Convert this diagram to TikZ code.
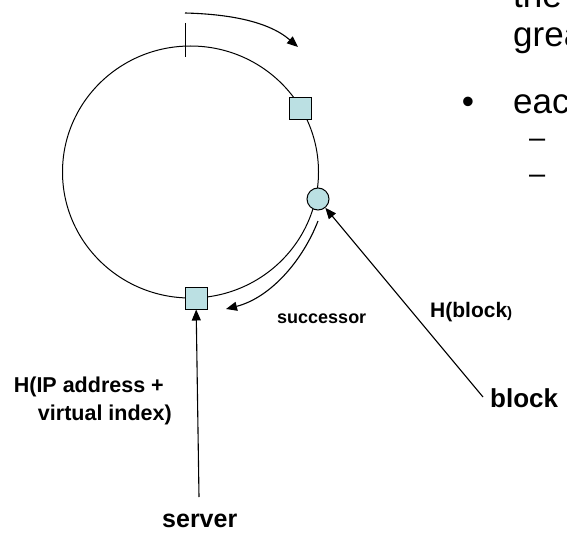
\documentclass[tikz,border=0pt]{standalone}
\usepackage{fontspec}
\setmainfont{Liberation Sans}
\usepackage{tikz}
\usetikzlibrary{arrows.meta, positioning}
\definecolor{ringfill}{HTML}{BBE0E3}
\definecolor{ringline}{HTML}{000000}
\tikzset{
    servernode/.style={
        rectangle, draw=ringline, fill=ringfill,
        minimum size=22pt, inner sep=0pt, line width=1pt
    },
    blocknode/.style={
        circle, draw=ringline, fill=ringfill,
        minimum size=22pt, inner sep=0pt, line width=1pt
    },
    ringarrow/.style={
        -{Triangle[length=11pt, width=9pt]}, line width=1.1pt, color=ringline
    },
    lab/.style={
        font=\bfseries\fontsize{#1}{#1}\selectfont, inner sep=0pt, anchor=base west
    },
    slidetext/.style={
        font=\fontsize{35}{40}\selectfont, inner sep=0pt, anchor=base west
    },
}

\begin{document}
\begin{tikzpicture}[x=1pt, y=-1pt]

    \useasboundingbox (0,0) rectangle (567,535);
    \clip (0,0) rectangle (567,535);

    % Hash ring and start tick
    \coordinate (hub) at (190.5,172);
    \draw[line width=1pt] (hub) ellipse[x radius=128pt, y radius=126pt];
    \coordinate (tickA) at (185.5,23);
    \coordinate (tickB) at (185.5,57);
    \draw[line width=1pt] (tickA) -- (tickB);

    % Servers and block on the ring
    \node[servernode] (srvtop) at (300,108) {};
    \node[blocknode] (blk) at (318,199) {};
    \node[servernode] (srv) at (196,298) {};

    % Direction of the ring
    \coordinate (spinA) at (185,13);
    \coordinate (spinB) at (298,47);
    \draw[ringarrow] (spinA) .. controls (225.5,14) and (267.4,20.4) .. (spinB);

    % Successor walk
    \coordinate (succA) at (318,221);
    \coordinate (succB) at (226,309);
    \draw[ringarrow] (succA) .. controls (302,262) and (269.6,298) .. (succB);
    \node[lab=18] (succlab) at (277,323) {successor};

    % Hashing server and block
    \coordinate (srvfoot) at (199,497);
    \draw[ringarrow] (srvfoot) -- (srv);
    \coordinate (blkfoot) at (483,397);
    \draw[ringarrow] (blkfoot) -- (blk);

    \node[lab=21, align=right, anchor=north east, font=\bfseries\fontsize{21.5}{28}\selectfont] (hip) at (172,377) {H(IP address +\hspace*{8pt}\\virtual index)};
    \node[lab=25] (srvlab) at (162,527) {server};
    \node[lab=21] (hblk) at (430,317) {H(block{\fontsize{15}{15}\selectfont)}};
    \node[lab=26] (blklab) at (490,407) {block};

    % Slide text on the right
    \node[slidetext] (line1) at (513,8) {the};
    \node[slidetext] (line2) at (513,47) {grea};
    \node[slidetext] (line3) at (513,113) {eac};
    \node[slidetext, anchor=base] (dot) at (468,113) {•};
    \node[slidetext, font=\fontsize{29}{29}\selectfont] (dash1) at (529,147) {–};
    \node[slidetext, font=\fontsize{29}{29}\selectfont] (dash2) at (529,183) {–};

\end{tikzpicture}
\end{document}
